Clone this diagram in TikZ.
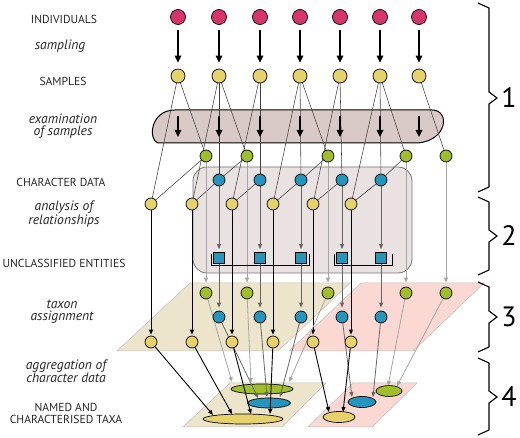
\documentclass[tikz,border=0pt]{standalone}
\usepackage{fontspec}
\setmainfont{PT Sans}
\usetikzlibrary{arrows.meta,shapes.geometric}
\pgfdeclarelayer{bg}
\pgfdeclarelayer{lines}
\pgfsetlayers{bg,lines,main}
\definecolor{indcol}{HTML}{D8346A}
\definecolor{yelcol}{HTML}{E5D26B}
\definecolor{grncol}{HTML}{A0BE28}
\definecolor{blucol}{HTML}{2396BE}
\definecolor{examfill}{HTML}{D9C9C6}
\definecolor{boxfill}{HTML}{EAE2E1}
\definecolor{tanfill}{HTML}{EDE4CC}
\definecolor{pinkfill}{HTML}{FBD8D2}
\begin{document}
\begin{tikzpicture}[x=1pt,y=-1pt,
 dot/.style={circle,draw=black,line width=0.7pt,inner sep=0pt},
 ind/.style={dot,fill=indcol,minimum size=15pt},
 smp/.style={dot,fill=yelcol,minimum size=14pt},
 gdot/.style={dot,fill=grncol,minimum size=12pt},
 bdot/.style={dot,fill=blucol,minimum size=12pt},
 ydot/.style={dot,fill=yelcol,minimum size=12pt},
 sqr/.style={rectangle,draw=black,line width=0.7pt,fill=blucol,minimum size=11pt,inner sep=0pt},
 ell/.style={ellipse,draw=black,line width=0.7pt,inner sep=0pt},
 bigarr/.style={line width=1.6pt,-{Triangle[length=7pt,width=6.5pt]}},
 thinln/.style={line width=0.55pt,black!75},
 blkarr/.style={line width=0.9pt,black,-{Triangle[length=5pt,width=4pt]}},
 drkarr/.style={line width=0.8pt,black!60,-{Triangle[length=5pt,width=4pt]}},
 ltarr/.style={line width=0.8pt,black!35,-{Triangle[length=5pt,width=4pt]}},
 lbl/.style={font=\fontsize{11.6}{12}\selectfont,text=black!85,align=center,inner sep=0pt},
 ilbl/.style={lbl,font=\fontsize{13.6}{12.2}\selectfont\itshape},
 digit/.style={font=\fontsize{28}{28}\selectfont,inner sep=0pt},
 plane/.style={draw=black!25,line width=0.5pt},
 brace/.style={line width=1.1pt,line join=miter}
]
\useasboundingbox (0,0) rectangle (520,438);

% ---------- background: planes, boxes, ellipses
\begin{pgfonlayer}{bg}
\draw[plane,fill=tanfill] (117,351) -- (278,351) -- (350,283) -- (190,283) -- cycle;
\draw[plane,fill=pinkfill] (289,351) -- (413,351) -- (484,283) -- (361,283) -- cycle;
\draw[plane,fill=tanfill] (183,427) -- (282,427) -- (326,383) -- (230,383) -- cycle;
\draw[plane,fill=pinkfill] (308,427) -- (372,427) -- (417,383) -- (353,383) -- cycle;
\draw[fill=boxfill,draw=black!55,line width=0.8pt,rounded corners=14pt] (193,167) rectangle (412,273);
\draw[fill=examfill,line width=1pt] (175,110) -- (432,110) .. controls (450,110) and (448,140) .. (418,143) -- (158,143) .. controls (148,140) and (150,110) .. (175,110) -- cycle;
\node[ell,fill=grncol,minimum width=62pt,minimum height=10pt] (eg) at (262,389) {};
\node[ell,fill=blucol,minimum width=43pt,minimum height=10pt] (eb) at (269,403) {};
\node[ell,fill=yelcol,minimum width=80pt,minimum height=10pt] (ey) at (243,419) {};
\node[ell,fill=grncol,minimum width=26pt,minimum height=11pt] (pg) at (389,391) {};
\node[ell,fill=blucol,minimum width=28pt,minimum height=11pt] (pb) at (362,402) {};
\node[ell,fill=yelcol,minimum width=32pt,minimum height=11pt] (py) at (339,417) {};
\end{pgfonlayer}

% ---------- nodes
\foreach \n/\x in {1/178,2/219,3/260,4/300,5/340,6/380,7/419} {
  \node[ind] (i\n) at (\x,17) {};
  \node[smp] (s\n) at (\x,76) {};
  \coordinate (ea\n) at (\x,116);
  \coordinate (ez\n) at (\x,137);
}
\foreach \n/\x in {1/206,2/247,3/328,4/406,5/446} {
  \node[gdot] (g\n) at (\x,156) {};
  \node[gdot] (G\n) at (\x,293) {};
}
\foreach \n/\x in {1/219,2/260,3/301,4/342,5/381} {
  \node[bdot] (b\n) at (\x,180) {};
  \node[sqr] (q\n) at (\x,258) {};
  \node[bdot] (B\n) at (\x,317) {};
}
\foreach \n/\x in {1/151,2/192,3/232,4/273,5/313,6/351} {
  \node[ydot] (y\n) at (\x,204) {};
  \node[ydot] (Y\n) at (\x,342) {};
}

% tip points on the aggregated taxa
\coordinate (tg1) at (232,382);
\coordinate (tg2) at (251,383);
\coordinate (tg3) at (289,382);
\coordinate (tb1) at (258,398);
\coordinate (tb2) at (267,397);
\coordinate (tb3) at (280,397);
\coordinate (ty1) at (213,415);
\coordinate (ty2) at (232,414);
\coordinate (ty3) at (251,414);
\coordinate (ty4) at (270,414);
\coordinate (tg4) at (388,386);
\coordinate (tg5) at (397,386);
\coordinate (tb4) at (352,397);
\coordinate (tb5) at (373,397);
\coordinate (ty5) at (329,412);
\coordinate (ty6) at (343,412);

% brackets under unclassified entities
\draw[line width=1pt] (211,254) |- (309,266) -- (309,254);
\draw[line width=1pt] (334,254) |- (392,266) -- (392,254);

% ---------- connectors
\begin{pgfonlayer}{lines}
\foreach \a/\b in {s1/g1,s2/g2,s4/g3,s6/g4,s7/g5,
                   s2/b1,s3/b2,s4/b3,s5/b4,s6/b5,
                   s1/y1,s2/y2,s3/y3,s4/y4,s5/y5,s6/y6,
                   g1/y1,g2/b1,g3/b3,g4/b5,
                   b1/y2,b2/y3,b3/y4,b4/y5,b5/y6}
  \draw[thinln] (\a) -- (\b);
\foreach \n in {1,...,7} {
  \draw[bigarr,shorten <=5pt,shorten >=6pt] (i\n) -- (s\n);
  \draw[bigarr] (ea\n) -- (ez\n);
}
\foreach \n in {1,...,5} {
  \draw[ltarr,shorten >=4pt] (g\n) -- (G\n);
  \draw[drkarr,shorten >=3pt] (b\n) -- (q\n);
  \draw[drkarr,shorten >=3pt] (q\n) -- (B\n);
}
\foreach \n in {1,...,6}
  \draw[blkarr,shorten >=1pt] (y\n) -- (Y\n);
\foreach \n in {1,...,5} {
  \draw[ltarr] (G\n) -- (tg\n);
  \draw[drkarr] (B\n) -- (tb\n);
}
\foreach \n in {1,...,6}
  \draw[blkarr] (Y\n) -- (ty\n);
\end{pgfonlayer}

% ---------- labels
\node[lbl] (l1) at (64,19) {INDIVIDUALS};
\node[ilbl] (l2) at (60,46) {sampling};
\node[lbl] (l3) at (63,81) {SAMPLES};
\node[ilbl] (l4) at (63,126) {examination\\of samples};
\node[lbl] (l5) at (61,182) {CHARACTER DATA};
\node[ilbl] (l6) at (64,214) {analysis of\\relationships};
\node[lbl] (l7) at (64,263) {UNCLASSIFIED ENTITIES};
\node[ilbl] (l8) at (62,312) {taxon\\assignment};
\node[ilbl] (l9) at (66,371) {aggregation of\\character data};
\node[lbl] (l10) at (66,413) {NAMED AND\\CHARACTERISED TAXA};

% ---------- braces and stage numbers
\draw[brace] (478,3) -- (489,8) -- (489,92) -- (497,98) -- (489,104) -- (489,187) -- (478,192);
\draw[brace] (478,197) -- (489,202) -- (489,230) -- (497,236) -- (489,242) -- (489,270) -- (478,275);
\draw[brace] (478,282) -- (489,287) -- (489,311) -- (497,317) -- (489,323) -- (489,347) -- (478,352);
\draw[brace] (478,358) -- (489,363) -- (489,391) -- (497,397) -- (489,403) -- (489,430) -- (478,435);
\node[digit] (n1) at (509,98) {1};
\node[digit] (n2) at (509,236) {2};
\node[digit] (n3) at (509,317) {3};
\node[digit] (n4) at (509,397) {4};
\end{tikzpicture}
\end{document}
